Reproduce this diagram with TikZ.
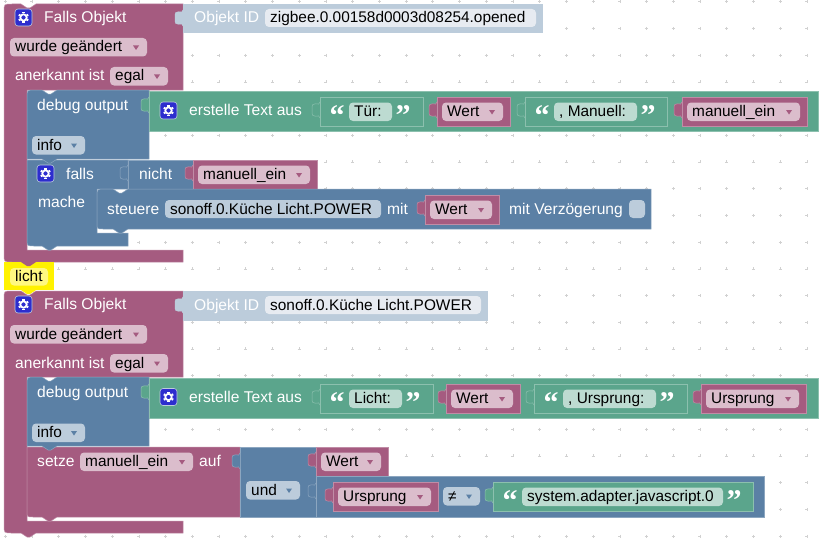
\documentclass[tikz,border=0pt]{standalone}
\usepackage{fontspec}
\setmainfont{Liberation Sans}
\newfontfamily\quotefont{Liberation Serif}
\usetikzlibrary{positioning,calc}
\definecolor{evtc}{HTML}{A55B80}
\definecolor{evtl}{HTML}{DBBDCC}
\definecolor{evte}{HTML}{C08CA6}
\definecolor{lgcc}{HTML}{5B80A5}
\definecolor{lgcl}{HTML}{BCCCDB}
\definecolor{lgce}{HTML}{8CA6C0}
\definecolor{txtc}{HTML}{5BA58C}
\definecolor{txtl}{HTML}{BDDBD1}
\definecolor{txte}{HTML}{8CC0AE}
\definecolor{idpill}{HTML}{E7EBF1}
\definecolor{iconc}{HTML}{2D2DCE}
% pill with dropdown triangle: name, x0, x1, top, fill, tip, text
\newcommand{\drop}[7]{
 \fill[#5,rounded corners=4] (#2,#4) rectangle (#3,#4+18.5);
 \fill[#6] (#3-14,#4+7.5) -- (#3-8,#4+7.5) -- (#3-11,#4+12) -- cycle;
 \node[bk] (#1) at (#2+5,#4+14) {#7};
}
% puzzle tab on a left edge: x, y, style
\newcommand{\vtab}[3]{
 \filldraw[#3] (#1,#2) .. controls (#1,#2+6) and (#1-9,#2-4) .. (#1-8,#2+8) .. controls (#1-9,#2+20) and (#1,#2+10) .. (#1,#2+16);
}
% purple value block with dropdown
\newcommand{\evtval}[5]{
 \vtab{#2}{#4+5}{evtb}
 \filldraw[evtb] (#2,#4) rectangle (#3,#4+29);
 \drop{#1}{#2+5}{#3-7}{#4+5.5}{evtl}{evtc}{#5}
}
% string block: name, x0, x1, pill0, pill1, top, text
\newcommand{\strval}[7]{
 \vtab{#2}{#6+5}{txtb}
 \filldraw[txtb] (#2,#6) rectangle (#3,#6+29);
 \fill[txtl,rounded corners=4] (#4,#6+5.5) rectangle (#5,#6+24);
 \node[bk] (#1) at (#4+5,#6+19.5) {#7};
 \node[qm] (#1o) at (#4-12,#6+28) {“};
 \node[qm] (#1c) at (#5+11,#6+28) {”};
}
% hat block with a C-shaped statement slot
\newcommand{\evtshape}[4]{
 \filldraw[evtb] (12,#4) .. controls (4,#4) .. (4,#4-8) -- (4,#1+8) .. controls (4,#1) .. (12,#1)
  -- (21,#1) [dent] -- (183,#1) -- (183,#2) -- (27,#2) -- (27,#3) -- (183,#3) -- (183,#4) -- (36,#4) [bump] -- cycle;
}
\begin{document}
\begin{tikzpicture}[x=1pt,y=-1pt,
 dent/.style={insert path={-- ++(6,4) -- ++(3,0) -- ++(6,-4)}},
 bump/.style={insert path={-- ++(-6,4) -- ++(-3,0) -- ++(-6,-4)}},
 evtb/.style={fill=evtc,draw=evte,line width=.5pt},
 lgcb/.style={fill=lgcc,draw=lgce,line width=.5pt},
 txtb/.style={fill=txtc,draw=txte,line width=.5pt},
 idb/.style={fill=lgcl,draw=lgcl,line width=.5pt},
 lab/.style={inner sep=0pt,anchor=base west,font=\fontsize{15.4}{18}\selectfont},
 wt/.style={lab,text=white,font=\fontsize{15.6}{18}\selectfont},
 bk/.style={lab,text=black},
 qm/.style={inner sep=0pt,anchor=base,text=white,font=\quotefont\bfseries\fontsize{30}{30}\selectfont},
 iconbox/.style={fill=iconc,draw=lgcl,line width=.6pt,rounded corners=3,minimum size=17pt,inner sep=0pt},
 gearline/.style={white,line width=1.8pt},
 geartooth/.style={white,line width=2.2pt}]
\useasboundingbox (0,0) rectangle (827,543);
\fill[white] (0,0) rectangle (827,543);
% background grid
\foreach \cc in {0,...,30} {
 \foreach \rr in {0,...,20} {
  \draw[black!18,line width=.5pt] (5.2+\cc*26.72-1.5,1.6+\rr*26.72) -- ++(3,0) ++(-1.5,-1.5) -- ++(0,3);
 }
}
% first event
\evtshape{4}{90}{250}{262}
\vtab{183}{10}{idb}
\filldraw[idb] (183,4) rectangle (542,32);
\fill[idpill,rounded corners=4] (265,9) rectangle (536,27);
\node[wt] (ida) at (194,23) {Objekt ID};
\node[bk] (idvala) at (270,23) {zigbee.0.00158d0003d08254.opened};
\node[iconbox] (icona) at (23.5,17.5) {};
\node[wt] (fallsa) at (44,22.5) {Falls Objekt};
\drop{wurdea}{10}{147}{38}{evtl}{evtc}{wurde geändert}
\node[wt] (anera) at (15,81) {anerkannt ist};
\drop{egala}{110}{168}{67}{evtl}{evtc}{egal}
% falls with its slot
\filldraw[lgcb] (27,160) -- (128,160) -- (128,189) -- (97,189) -- (97,233) -- (128,233) -- (128,246) -- (57,246) [bump] -- (34,246) .. controls (27,246) .. (27,239) -- cycle;
\filldraw[lgcb] (128,160) rectangle (193,189);
\vtab{128}{165}{lgcb}
\node[iconbox] (iconb) at (45.5,173.5) {};
\node[wt] (fallsb) at (66,179) {falls};
\node[wt] (nicht) at (139,179) {nicht};
\node[wt] (mache) at (38,207) {mache};
\evtval{manuella}{193}{317}{160}{manuell\_ein}
% steuere
\filldraw[lgcb] (97,197) .. controls (97,189) .. (105,189) -- (113,189) [dent] -- (651,189) -- (651,229) -- (128,229) [bump] -- (103,229) .. controls (97,229) .. (97,223) -- cycle;
\node[wt] (steuere) at (107,214) {steuere};
\fill[lgcl,rounded corners=4] (165,200) rectangle (381,218);
\node[bk] (sonoffa) at (170,214) {sonoff.0.Küche Licht.POWER};
\node[wt] (mita) at (387,214) {mit};
\evtval{werta}{425}{499}{195}{Wert}
\node[wt] (mitb) at (509,214) {mit Verzögerung};
\fill[lgcl,rounded corners=4] (629,200) rectangle (645,218);
% debug output
\filldraw[lgcb] (27,159) -- (27,98) .. controls (27,90) .. (35,90) -- (42,90) [dent] -- (149,90) -- (149,159) -- (57,159) [bump] -- cycle;
\node[wt] (debuga) at (37,110) {debug output};
\drop{infoa}{32}{85}{136}{lgcl}{lgcc}{info}
% erstelle Text
\vtab{149}{97}{txtb}
\filldraw[txtb] (149,91) rectangle (818,131);
\node[iconbox] (iconc) at (168.5,110.5) {};
\node[wt] (texta) at (189,115.5) {erstelle Text aus};
\strval{tuer}{320}{423}{349}{392}{97}{Tür:}
\evtval{wertb}{437}{510}{97}{Wert}
\strval{manu}{525}{667}{554}{637}{97}{, Manuell:}
\evtval{manuellb}{682}{807}{97}{manuell\_ein}
% licht
\fill[yellow] (4,262) rectangle (54,290);
\fill[yellow!50!white,rounded corners=4] (10,268) rectangle (48,285.5);
\node[bk] (licht) at (15,281.5) {licht};
% second event
\evtshape{291}{377}{521}{533}
\fill[yellow] (36,290) [bump] -- cycle;
\fill[evtc] (36,262) [bump] -- cycle;
\vtab{183}{297}{idb}
\filldraw[idb] (183,291) rectangle (487,320);
\fill[idpill,rounded corners=4] (265,296) rectangle (481,314);
\node[wt] (idb) at (194,310) {Objekt ID};
\node[bk] (idvalb) at (270,310) {sonoff.0.Küche Licht.POWER};
\node[iconbox] (icond) at (23.5,304.5) {};
\node[wt] (fallsc) at (44,309.5) {Falls Objekt};
\drop{wurdeb}{10}{147}{325}{evtl}{evtc}{wurde geändert}
\node[wt] (anerb) at (15,368) {anerkannt ist};
\drop{egalb}{110}{168}{354}{evtl}{evtc}{egal}
% setze
\filldraw[evtb] (27,447) -- (240,447) -- (240,517) -- (57,517) [bump] -- (33,517) .. controls (27,517) .. (27,511) -- cycle;
\node[wt] (setze) at (37,466) {setze};
\drop{manuellc}{80}{193}{452.5}{evtl}{evtc}{manuell\_ein}
\node[wt] (auf) at (199,466) {auf};
% und
\filldraw[lgcb] (240,447) rectangle (316,517);
\vtab{240}{453}{lgcb}
\drop{und}{246}{300}{481}{lgcl}{lgcc}{und}
\evtval{wertc}{316}{388}{447}{Wert}
\vtab{316}{483}{lgcb}
\filldraw[lgcb] (316,476) rectangle (764,517);
\evtval{urspa}{333}{438}{482}{Ursprung}
\drop{ungl}{443}{480}{487}{lgcl}{lgcc}{≠}
\strval{sysad}{493}{753}{522}{723}{482}{system.adapter.javascript.0}
% debug output
\filldraw[lgcb] (27,446) -- (27,385) .. controls (27,377) .. (35,377) -- (42,377) [dent] -- (149,377) -- (149,446) -- (57,446) [bump] -- cycle;
\node[wt] (debugb) at (37,397) {debug output};
\drop{infob}{32}{85}{423.5}{lgcl}{lgcc}{info}
% erstelle Text
\vtab{149}{384}{txtb}
\filldraw[txtb] (149,378) rectangle (818,418);
\node[iconbox] (icone) at (168.5,397) {};
\node[wt] (textb) at (189,402) {erstelle Text aus};
\strval{lichtb}{320}{433}{349}{402}{384}{Licht:}
\evtval{wertd}{446}{520}{384}{Wert}
\strval{urso}{534}{687}{563}{656}{384}{, Ursprung:}
\evtval{urspb}{701}{806}{384}{Ursprung}
% gears on the icons
\foreach \ii in {icona,iconb,iconc,icond,icone} {
 \draw[gearline] (\ii.center) circle (3.2);
 \foreach \aa in {30,90,...,330} {\draw[geartooth] (\ii.center) ++(\aa:4) -- ++(\aa:1.4);}
}
\end{tikzpicture}
\end{document}
